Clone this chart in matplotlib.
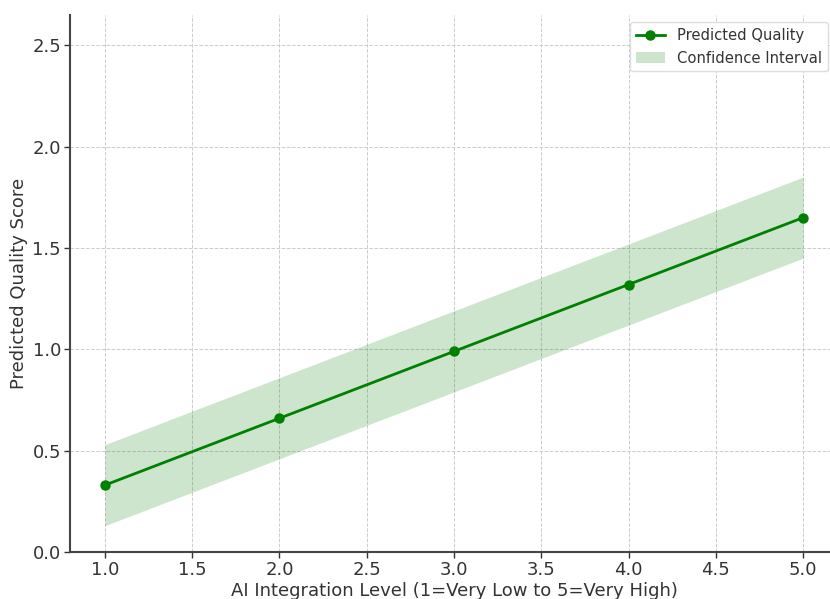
import matplotlib
matplotlib.use("Agg")
import matplotlib.pyplot as plt
import numpy as np

# AI integration level vs predicted quality score
levels = [1.0, 2.0, 3.0, 4.0, 5.0]
predicted = [0.33, 0.66, 0.99, 1.32, 1.65]
ci_lower = [0.13, 0.46, 0.79, 1.12, 1.45]
ci_upper = [0.53, 0.86, 1.19, 1.52, 1.85]

text_col = "#333333"
plt.rcParams["font.family"] = "DejaVu Sans"

fig = plt.figure(figsize=(8.3, 5.99), dpi=100)
ax = fig.add_axes([70 / 830, 47 / 599, 768 / 830, 537 / 599])

ax.fill_between(levels, ci_lower, ci_upper, color="green", alpha=0.2,
                linewidth=0, label="Confidence Interval")
ax.plot(levels, predicted, color="green", marker="o", markersize=6.5,
        linewidth=2, label="Predicted Quality")

ax.set_xlim(0.8, 5.2)
ax.set_ylim(0, 2.65)
ax.set_xticks(np.arange(1.0, 5.01, 0.5))
ax.set_yticks(np.arange(0.0, 2.51, 0.5))
ax.xaxis.set_major_formatter(matplotlib.ticker.FormatStrFormatter("%.1f"))
ax.yaxis.set_major_formatter(matplotlib.ticker.FormatStrFormatter("%.1f"))

ax.grid(True, linestyle="--", linewidth=0.7, color="#cccccc")
ax.set_axisbelow(True)
for side in ["top", "right"]:
    ax.spines[side].set_visible(False)
for side in ["left", "bottom"]:
    ax.spines[side].set_color("#444444")
    ax.spines[side].set_linewidth(1.5)

ax.tick_params(labelsize=13, colors=text_col, length=4, width=1, pad=2.5)
ax.set_xlabel("AI Integration Level (1=Very Low to 5=Very High)",
              fontsize=13, color=text_col, labelpad=2)
ax.set_ylabel("Predicted Quality Score", fontsize=13, color=text_col, labelpad=3)

handles, labels = ax.get_legend_handles_labels()
leg = ax.legend(handles[::-1], labels[::-1], loc="upper right",
                bbox_to_anchor=(1.006, 0.975), bbox_transform=fig.transFigure,
                fontsize=10.6, framealpha=1.0, edgecolor="#dddddd")
for t in leg.get_texts():
    t.set_color(text_col)

fig.savefig("out.png", dpi=100)
